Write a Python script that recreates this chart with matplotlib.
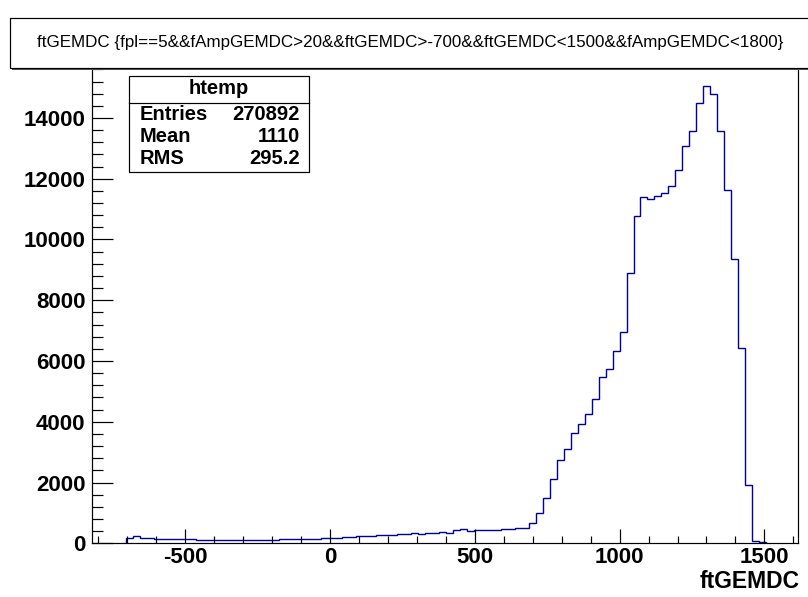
import matplotlib
matplotlib.use("Agg")
import matplotlib.pyplot as plt
from matplotlib.patches import Rectangle
from matplotlib.lines import Line2D
from matplotlib.ticker import MultipleLocator, FixedLocator

plt.rcParams['font.family'] = ['Liberation Sans', 'DejaVu Sans']

# ---- histogram data (htemp: ftGEMDC, 24-unit bins starting at -704) ----
bin_start = -704
bin_width = 24
counts = [
    180, 225, 165, 160, 150, 145, 140, 135, 135, 130,
    125, 120, 120, 115, 120, 115, 110, 115, 120, 115,
    125, 120, 130, 135, 135, 145, 140, 150, 170, 175,
    180, 195, 200, 235, 240, 245, 260, 265, 280, 290,
    315, 335, 320, 335, 350, 375, 350, 435, 470, 420,
    430, 425, 450, 445, 480, 470, 515, 515, 660, 1005,
    1480, 2115, 2730, 3095, 3620, 3935, 4265, 4740, 5465, 5735,
    6330, 6955, 8885, 10785, 11390, 11325, 11440, 11540, 11770, 12300,
    13080, 13580, 14485, 15065, 14790, 13560, 11640, 9370, 6430, 1930,
    66, 33,
]
edges = [bin_start + bin_width * i for i in range(len(counts) + 1)]

x_ticks = [-500, 0, 500, 1000, 1500]
y_ticks = [0, 2000, 4000, 6000, 8000, 10000, 12000, 14000]

title_text = ("ftGEMDC {fpl==5&&fAmpGEMDC>20&&ftGEMDC>-700&&ftGEMDC<1500"
              "&&fAmpGEMDC<1800}")
x_label = "ftGEMDC"
stats_name = "htemp"
stats_rows = [("Entries", "270892"), ("Mean", "1110"), ("RMS", "295.2")]

W, H = 808, 597
fig = plt.figure(figsize=(W / 100, H / 100), dpi=100)


def fx(x):
    return x / W


def fy(y):
    return 1 - y / H


PX = 0.72  # one pixel in points

# frame
left, right, bottom, top = 91.7, 798.3, 543.3, 62.8
ax = fig.add_axes([fx(left), fy(bottom), (right - left) / W, (bottom - top) / H])
ax.set_xlim(-823, 1617)
ax.set_ylim(0, 15816)

ax.stairs(counts, edges, color='#000099', lw=1.0, baseline=0)

for s in ax.spines.values():
    s.set_linewidth(PX * 1.2)
    s.set_color('black')

ax.xaxis.set_major_locator(FixedLocator(x_ticks))
ax.xaxis.set_minor_locator(MultipleLocator(100))
ax.yaxis.set_major_locator(FixedLocator(y_ticks))
ax.yaxis.set_minor_locator(MultipleLocator(400))
ax.set_xticklabels([str(v) for v in x_ticks])
ax.set_yticklabels([str(v) for v in y_ticks])

ax.tick_params(axis='x', which='major', direction='in', length=14.4 * PX,
               width=PX * 1.2, pad=2.5, labelsize=16)
ax.tick_params(axis='x', which='minor', direction='in', length=7.2 * PX,
               width=PX * 1.2)
ax.tick_params(axis='y', which='major', direction='in', length=21 * PX,
               width=PX * 1.2, pad=4.5, labelsize=16)
ax.tick_params(axis='y', which='minor', direction='in', length=10.6 * PX,
               width=PX * 1.2)
for lab in ax.get_xticklabels() + ax.get_yticklabels():
    lab.set_fontweight('bold')

fig.text(fx(800), fy(582), x_label, ha='right', va='center',
         fontsize=16.5, fontweight='bold')

# title pave with shadow
tb_l, tb_t, tb_b = 10, 18, 68
fig.patches.append(Rectangle((fx(tb_l + 2), fy(tb_b + 2)), 1.2, (tb_b - tb_t) / H,
                             transform=fig.transFigure, facecolor='#555555',
                             edgecolor='none', zorder=5))
fig.patches.append(Rectangle((fx(tb_l), fy(tb_b)), 1.2, (tb_b - tb_t) / H,
                             transform=fig.transFigure, facecolor='white',
                             edgecolor='black', lw=PX * 1.2, zorder=6))
t = fig.text(fx(410), fy(42.5), title_text, ha='center', va='center',
             fontsize=12, fontweight='medium', zorder=7)
fig.canvas.draw()
wpx = t.get_window_extent().width
t.set_fontsize(12 * 748 / wpx)

# statistics box
sb_l, sb_r, sb_t, sb_b, sb_h = 129.3, 309, 76, 172, 102.5
fig.patches.append(Rectangle((fx(sb_l), fy(sb_b)), (sb_r - sb_l) / W, (sb_b - sb_t) / H,
                             transform=fig.transFigure, facecolor='white',
                             edgecolor='black', lw=PX * 1.2, zorder=6))
fig.lines.append(Line2D([fx(sb_l), fx(sb_r)], [fy(sb_h), fy(sb_h)],
                        transform=fig.transFigure, color='black',
                        lw=PX * 1.2, zorder=7))
fig.text(fx((sb_l + sb_r) / 2), fy(89), stats_name, ha='center', va='center',
         fontsize=14.5, fontweight='bold', zorder=8)
for i, (name, val) in enumerate(stats_rows):
    yy = 114.5 + 21.8 * i
    fig.text(fx(140), fy(yy), name, ha='left', va='center',
             fontsize=14.5, fontweight='bold', zorder=8)
    fig.text(fx(300), fy(yy), val, ha='right', va='center',
             fontsize=14.5, fontweight='bold', zorder=8)

fig.savefig("out.png", dpi=100, facecolor='white')
